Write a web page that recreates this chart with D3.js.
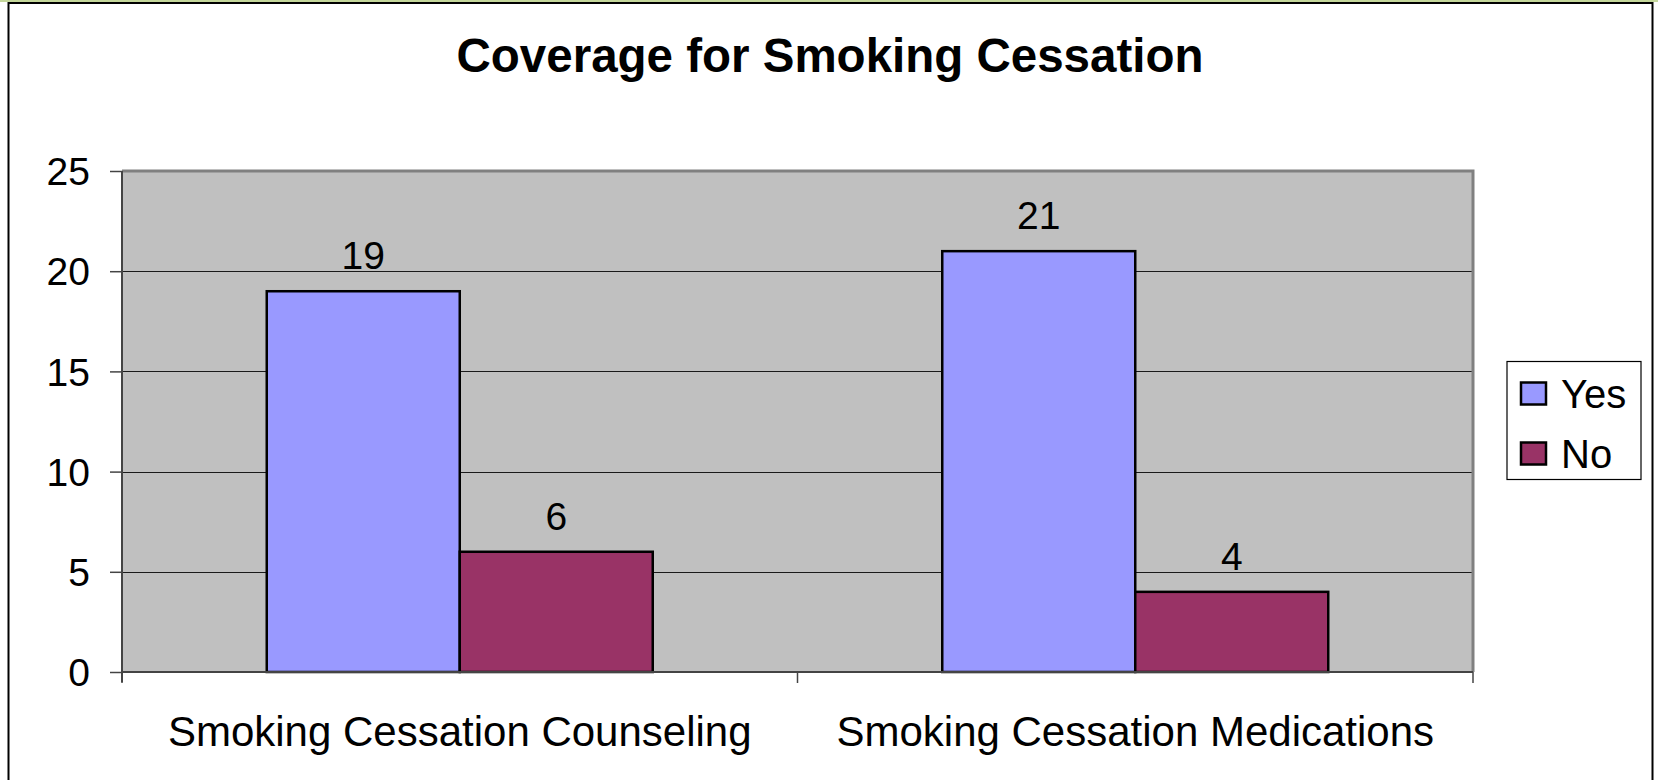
<!DOCTYPE html>
<html>
<head>
<meta charset="utf-8">
<script src="https://cdn.jsdelivr.net/npm/d3@7"></script>
<style>
  html, body { margin: 0; padding: 0; background: #fff; }
  svg { display: block; font-family: "Liberation Sans", Arial, sans-serif; }
</style>
</head>
<body>
<svg id="chart" width="1658" height="780"></svg>
<script>
const title = "Coverage for Smoking Cessation";
const categories = ["Smoking Cessation Counseling", "Smoking Cessation Medications"];
const seriesNames = ["Yes", "No"];
const yesValues = [19, 21];
const noValues = [6, 4];
const yTicks = [0, 5, 10, 15, 20, 25];
const seriesColors = ["#9999FF", "#993366"];

const svg = d3.select("#chart");
const W = 1658, H = 780;

// outer chart frame
svg.append("rect").attr("x", 0).attr("y", 0).attr("width", W).attr("height", 2)
  .attr("fill", "#c4d79b");
svg.append("rect").attr("x", 8.5).attr("y", 3).attr("width", 1644).attr("height", 800)
  .attr("fill", "#fff").attr("stroke", "#000").attr("stroke-width", 2);

const plot = { left: 122, right: 1473, top: 171, bottom: 672 };

const x0 = d3.scaleBand().domain(categories).range([plot.left, plot.right]).paddingInner(0).paddingOuter(0);
// Excel gap width 150% -> gap = 1.5 * bar width, split half each side
const barW = x0.bandwidth() / (2 + 1.5);
const y = d3.scaleLinear().domain([0, 25]).range([plot.bottom, plot.top]);

const data = categories.map((c, i) => ({ cat: c, vals: [yesValues[i], noValues[i]] }));

// plot background
svg.append("rect").attr("x", plot.left).attr("y", plot.top)
  .attr("width", plot.right - plot.left).attr("height", plot.bottom - plot.top)
  .attr("fill", "#c0c0c0");

// gridlines
svg.append("g").selectAll("line").data(yTicks.filter(t => t > 0 && t < 25)).join("line")
  .attr("x1", plot.left).attr("x2", plot.right)
  .attr("y1", d => Math.round(y(d)) + 0.5).attr("y2", d => Math.round(y(d)) + 0.5)
  .attr("stroke", "#1a1a1a").attr("stroke-width", 1.2);

// plot border top/right (gray)
svg.append("path")
  .attr("d", `M${plot.left},${plot.top} H${plot.right} V${plot.bottom}`)
  .attr("fill", "none").attr("stroke", "#808080").attr("stroke-width", 3);

// bars
const groups = svg.append("g").selectAll("g").data(data).join("g")
  .attr("transform", d => `translate(${x0(d.cat)},0)`);
groups.selectAll("rect").data(d => d.vals.map((v, j) => ({ v, j }))).join("rect")
  .attr("x", d => barW * 0.75 + d.j * barW)
  .attr("y", d => y(d.v))
  .attr("width", barW)
  .attr("height", d => y(0) - y(d.v))
  .attr("fill", d => seriesColors[d.j])
  .attr("stroke", "#000").attr("stroke-width", 2.5);
groups.selectAll("text").data(d => d.vals.map((v, j) => ({ v, j }))).join("text")
  .attr("x", d => barW * 0.75 + d.j * barW + barW / 2)
  .attr("y", d => y(d.v) - 22)
  .attr("text-anchor", "middle")
  .attr("font-size", 39)
  .attr("fill", "#000")
  .text(d => d.v);

// y axis
const yAxis = d3.axisLeft(y).tickValues(yTicks).tickSize(12).tickPadding(20);
const gy = svg.append("g").attr("transform", `translate(${plot.left},0)`).call(yAxis);
gy.select(".domain").attr("stroke", "#444").attr("stroke-width", 2)
  .attr("d", `M0,${plot.top}V${plot.bottom + 10}`);
gy.selectAll(".tick line").attr("stroke", "#444").attr("stroke-width", 1.5);
gy.selectAll(".tick text").attr("font-size", 39).attr("fill", "#000")
  .attr("font-family", "'Liberation Sans', Arial, sans-serif").attr("dy", "0.35em");

// x axis
const gx = svg.append("g").attr("transform", `translate(0,${plot.bottom})`);
gx.append("line").attr("x1", plot.left).attr("x2", plot.right).attr("y1", 0).attr("y2", 0)
  .attr("stroke", "#444").attr("stroke-width", 2);
const boundaries = [plot.left, ...categories.map(c => x0(c) + x0.bandwidth())];
gx.selectAll("line.tk").data(boundaries).join("line").attr("class", "tk")
  .attr("x1", d => d).attr("x2", d => d).attr("y1", 0).attr("y2", 11)
  .attr("stroke", "#444").attr("stroke-width", 1.5);
gx.selectAll("text").data(categories).join("text")
  .attr("x", d => x0(d) + x0.bandwidth() / 2)
  .attr("y", 74)
  .attr("text-anchor", "middle")
  .attr("font-size", 42)
  .attr("fill", "#000")
  .text(d => d);

// title
svg.append("text").attr("x", 830).attr("y", 72).attr("text-anchor", "middle")
  .attr("font-size", 47.5).attr("font-weight", "bold").attr("fill", "#000").text(title);

// legend
const lg = svg.append("g").attr("transform", "translate(1507,361.5)");
lg.append("rect").attr("width", 134).attr("height", 118).attr("fill", "#fff")
  .attr("stroke", "#000").attr("stroke-width", 1.2);
const items = lg.selectAll("g").data(seriesNames).join("g")
  .attr("transform", (d, i) => `translate(0,${i * 60})`);
items.append("rect").attr("x", 14).attr("y", 21).attr("width", 25).attr("height", 22)
  .attr("fill", (d, i) => seriesColors[i]).attr("stroke", "#000").attr("stroke-width", 2.5);
items.append("text").attr("x", 54).attr("y", 46).attr("font-size", 40).attr("fill", "#000")
  .text(d => d);
</script>
</body>
</html>
